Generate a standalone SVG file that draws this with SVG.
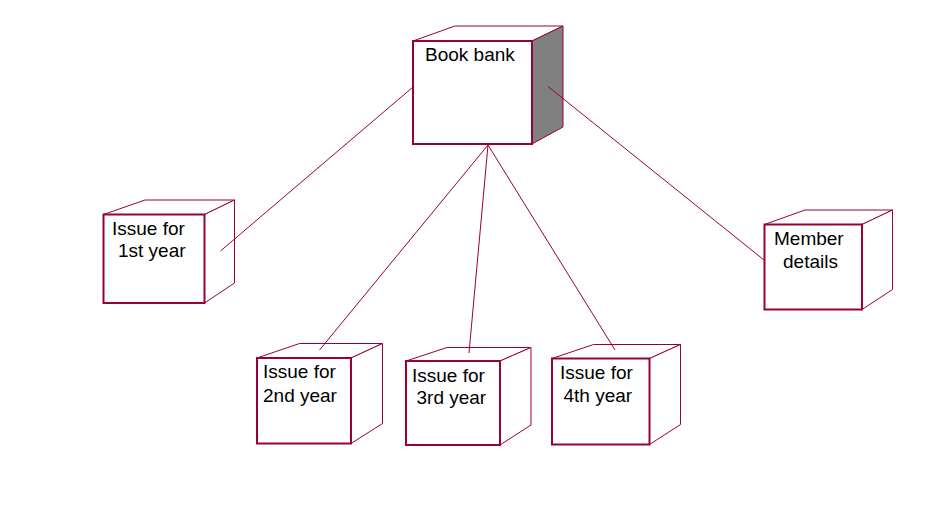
<svg xmlns="http://www.w3.org/2000/svg" width="952" height="522" viewBox="0 0 952 522">
<style>
.face{fill:#ffffff;stroke:#990033;stroke-width:1}
.front{fill:#ffffff;stroke:#990033;stroke-width:2}
.shade{fill:#808080;stroke:#990033;stroke-width:1}
.conn{fill:none;stroke:#990033;stroke-width:1}
text{font-family:"Liberation Sans",Arial,sans-serif;font-size:19px;fill:#000000}
</style>
<rect width="952" height="522" fill="#ffffff"/>
<g id="book-bank">
<polygon class="face" points="413,41 455,26 563,26 532,41"/>
<polygon class="shade" points="532,41 563,26 563,127 532,144"/>
<rect class="front" x="413" y="41" width="119" height="103"/>
<text x="425" y="61">Book bank</text>
</g>
<g id="issue-1st">
<polygon class="face" points="103.5,214.5 145,200 234.5,200 204.5,214.5"/>
<polygon class="face" points="204.5,214.5 234.5,200 234.5,283 204.5,303"/>
<rect class="front" x="103.5" y="214.5" width="101" height="88.5"/>
<text x="112" y="235">Issue for</text>
<text x="118" y="257">1st year</text>
</g>
<g id="member-details">
<polygon class="face" points="764.5,224.5 805,210 892.5,210 862,224.5"/>
<polygon class="face" points="862,224.5 892.5,210 892.5,289.5 862,309.5"/>
<rect class="front" x="764.5" y="224.5" width="97.5" height="85"/>
<text x="774" y="245">Member</text>
<text x="783" y="268">details</text>
</g>
<g id="issue-2nd">
<polygon class="face" points="257,358 299.5,343.5 382.5,343.5 351,358"/>
<polygon class="face" points="351,358 382.5,343.5 382.5,423.5 351,443.5"/>
<rect class="front" x="257" y="358" width="94" height="85.5"/>
<text x="263" y="378">Issue for</text>
<text x="263" y="402">2nd year</text>
</g>
<g id="issue-3rd">
<polygon class="face" points="406,361 447,347.5 531,347.5 500,361"/>
<polygon class="face" points="500,361 531,347.5 531,425 500,445"/>
<rect class="front" x="406" y="361" width="94" height="84"/>
<text x="412" y="382">Issue for</text>
<text x="416.5" y="404">3rd year</text>
</g>
<g id="issue-4th">
<polygon class="face" points="552,358.5 593.5,344.5 680.5,344.5 649.5,358.5"/>
<polygon class="face" points="649.5,358.5 680.5,344.5 680.5,424.5 649.5,444.5"/>
<rect class="front" x="552" y="358.5" width="97.5" height="86"/>
<text x="560" y="379">Issue for</text>
<text x="563.5" y="402">4th year</text>
</g>
<g id="connectors">
<line class="conn" x1="413" y1="87" x2="220.5" y2="251"/>
<line class="conn" x1="548" y1="86.5" x2="764" y2="260"/>
<line class="conn" x1="488" y1="145" x2="319.5" y2="350"/>
<line class="conn" x1="488" y1="145" x2="469" y2="353"/>
<line class="conn" x1="488" y1="145" x2="615" y2="350"/>
</g>
</svg>
